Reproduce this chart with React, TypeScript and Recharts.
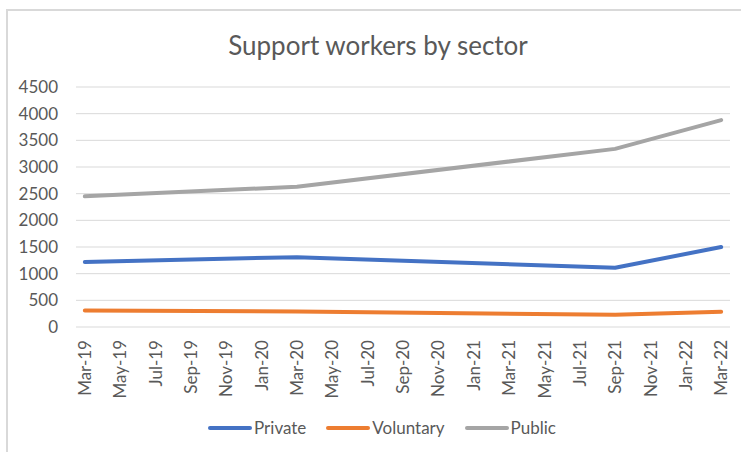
import { CartesianGrid, Line, LineChart, XAxis, YAxis } from "recharts";

// data points (date axis, monthly base unit)
const periods = ["Mar-19", "Mar-20", "Sep-21", "Mar-22"];
const privateWorkers = [1220, 1310, 1110, 1500];
const voluntaryWorkers = [310, 290, 230, 285];
const publicWorkers = [2450, 2630, 3340, 3880];

const tickLabels = [
  "Mar-19", "May-19", "Jul-19", "Sep-19", "Nov-19", "Jan-20", "Mar-20",
  "May-20", "Jul-20", "Sep-20", "Nov-20", "Jan-21", "Mar-21", "May-21",
  "Jul-21", "Sep-21", "Nov-21", "Jan-22", "Mar-22",
];
const yTicks = [0, 500, 1000, 1500, 2000, 2500, 3000, 3500, 4000, 4500];

const MONTHS = ["Jan", "Feb", "Mar", "Apr", "May", "Jun", "Jul", "Aug", "Sep", "Oct", "Nov", "Dec"];
const FONT = "Lato, 'Open Sans', sans-serif";
const TEXT = "#595959";

// month number counted from Mar-19
const monthIndex = (label: string) => {
  const [m, y] = label.split("-");
  return (parseInt(y) - 19) * 12 + MONTHS.indexOf(m) - 2;
};

const data = periods.map((p, i) => ({
  month: monthIndex(p),
  Private: privateWorkers[i],
  Voluntary: voluntaryWorkers[i],
  Public: publicWorkers[i],
}));

const xTicks = tickLabels.map(monthIndex);
const labelFor = (v: number) => tickLabels[xTicks.indexOf(v)] ?? "";

const series = [
  { key: "Private", color: "#4472C4" },
  { key: "Voluntary", color: "#ED7D31" },
  { key: "Public", color: "#A5A5A5" },
];

const RotatedTick = (props: any) => {
  const { x, payload } = props;
  const top = 340;
  return (
    <text
      x={x}
      y={top}
      dy="0.36em"
      transform={`rotate(-90, ${x}, ${top})`}
      textAnchor="end"
      fill={TEXT}
      fontSize={17}
      fontFamily={FONT}
    >
      {labelFor(payload.value)}
    </text>
  );
};

export default function App() {
  return (
    <div
      style={{
        position: "absolute",
        left: 0,
        top: 0,
        width: 741,
        height: 452,
        overflow: "hidden",
        background: "#fff",
        fontFamily: FONT,
      }}
    >
      <div
        style={{
          position: "absolute",
          left: 6,
          top: 9,
          width: 735,
          height: 443,
          borderTop: "2px solid #d9d9d9",
          borderLeft: "2px solid #d9d9d9",
          boxSizing: "border-box",
        }}
      />
      <div
        style={{
          position: "absolute",
          left: 14,
          width: 728,
          top: 29,
          textAlign: "center",
          fontSize: 26,
          color: TEXT,
          lineHeight: "32px",
        }}
      >
        Support workers by sector
      </div>
      <LineChart
        width={741}
        height={452}
        data={data}
        margin={{ top: 87, right: 11, bottom: 45, left: 0 }}
        style={{ position: "absolute", left: 0, top: 0 }}
      >
        <CartesianGrid vertical={false} stroke="#d9d9d9" strokeWidth={1} />
        <XAxis
          dataKey="month"
          type="number"
          domain={[-0.5, 36.5]}
          ticks={xTicks}
          interval={0}
          height={80}
          axisLine={false}
          tickLine={false}
          tick={<RotatedTick />}
        />
        <YAxis
          domain={[0, 4500]}
          ticks={yTicks}
          width={76}
          axisLine={false}
          tickLine={false}
          tickSize={0}
          tickMargin={18}
          tick={{ fill: TEXT, fontSize: 17, fontFamily: FONT }}
        />
        {series.map((s) => (
          <Line
            key={s.key}
            dataKey={s.key}
            type="linear"
            stroke={s.color}
            strokeWidth={4}
            strokeLinecap="round"
            strokeLinejoin="round"
            dot={false}
            activeDot={false}
            isAnimationActive={false}
          />
        ))}
      </LineChart>
      <div
        style={{
          position: "absolute",
          left: 14,
          width: 736,
          top: 416,
          display: "flex",
          justifyContent: "center",
          gap: 20,
          fontSize: 17,
          color: TEXT,
          lineHeight: "24px",
        }}
      >
        {series.map((s) => (
          <div key={s.key} style={{ display: "flex", alignItems: "center" }}>
            <span
              style={{
                display: "inline-block",
                width: 44,
                height: 4,
                borderRadius: 2,
                background: s.color,
                marginRight: 2,
              }}
            />
            <span>{s.key}</span>
          </div>
        ))}
      </div>
    </div>
  );
}
